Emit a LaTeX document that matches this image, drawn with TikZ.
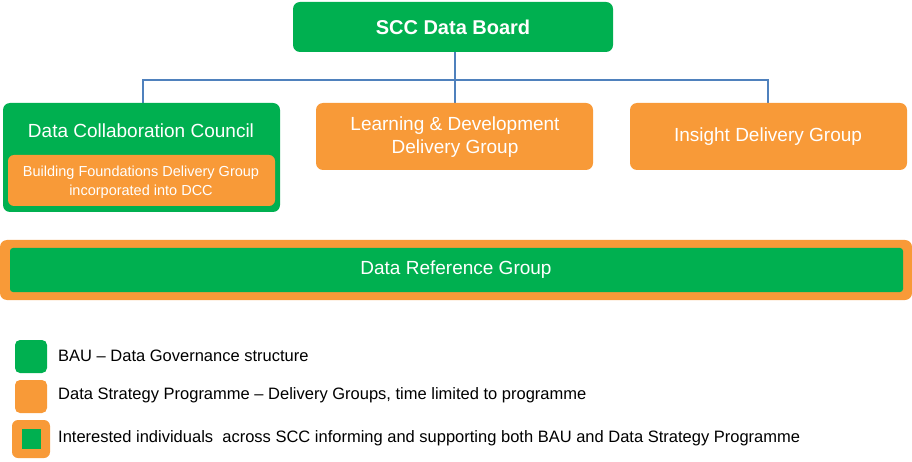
\documentclass[tikz,border=0pt]{standalone}
\usepackage{fontspec}
\setmainfont{Liberation Sans}
\definecolor{gr}{HTML}{00B050}
\definecolor{og}{HTML}{F89A38}
\definecolor{bl}{HTML}{4F81BD}
\begin{document}
\begin{tikzpicture}[x=1pt,y=-1pt,
  box/.style={rounded corners=7pt,inner sep=0pt},
  wt/.style={text=white,font=\fontsize{19}{22}\selectfont,align=center},
  lt/.style={anchor=west,font=\fontsize{16.5}{19}\selectfont,inner sep=0pt},
  con/.style={bl,line width=1.6pt}]
\useasboundingbox (0,0) rectangle (912,462);
\fill[gr,box] (293,2) rectangle (613,52);
\node[wt,font=\bfseries\fontsize{20}{22}\selectfont] (board) at (453,27) {SCC Data Board};
\coordinate (j) at (455,80);
\coordinate (l1) at (143,80);\coordinate (l3) at (768,80);
\draw[con] (455,52) -- (j);
\draw[con] (143,103) -- (l1) -- (l3) -- (768,103);
\draw[con] (455,80) -- (455,103);
% DCC
\fill[gr,box] (3,103) rectangle (280,212);
\fill[og,rounded corners=6pt] (8,155) -- (8,206) -- (275,206) -- (275,155) -- cycle;
\node[wt] (dcc) at (141,131) {Data Collaboration Council};
\node[wt,font=\fontsize{14.5}{19}\selectfont] (bf) at (141,182) {Building Foundations Delivery Group\\incorporated into DCC};
\fill[og,box] (316,103) rectangle (593,170);
\node[wt,font=\fontsize{19}{23}\selectfont] (ld) at (455,137) {Learning \& Development\\Delivery Group};
\fill[og,box] (630,103) rectangle (907,170);
\node[wt] (idg) at (768,137) {Insight Delivery Group};
% reference
\fill[og,box] (0,240) rectangle (912,300);
\fill[gr,rounded corners=3pt] (10,248) rectangle (903,292);
\node[wt] (drg) at (456,270) {Data Reference Group};
% legend
\fill[gr,rounded corners=5pt] (15,340) rectangle (47,373);
\fill[og,rounded corners=5pt] (15,380) rectangle (47,413);
\fill[og,rounded corners=6pt] (12,420) rectangle (50,458);
\fill[gr] (22,429) rectangle (41,449);
\node[lt] (t1) at (58,356) {BAU – Data Governance structure};
\node[lt] (t2) at (58,395) {Data Strategy Programme – Delivery Groups, time limited to programme};
\node[lt] (t3) at (58,438) {Interested individuals\ \ across SCC informing and supporting both BAU and Data Strategy Programme};
\end{tikzpicture}
\end{document}
